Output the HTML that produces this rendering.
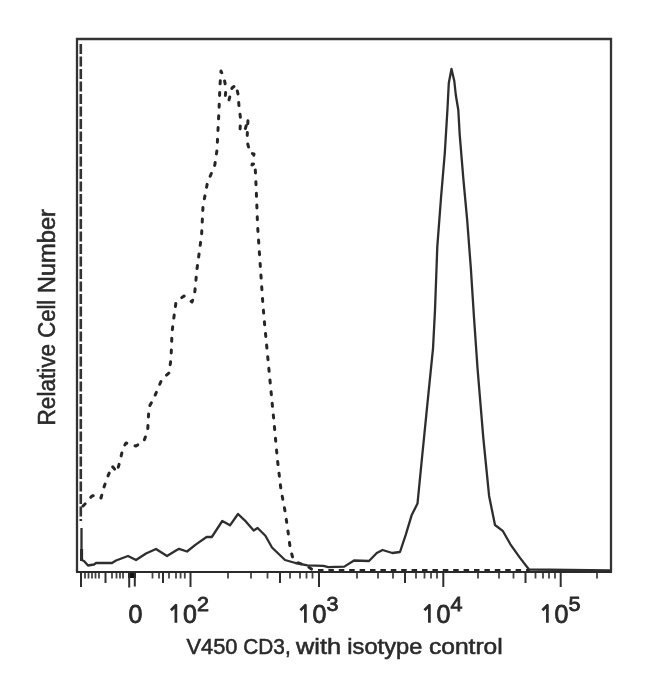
<!DOCTYPE html>
<html><head><meta charset="utf-8">
<style>
html,body{margin:0;padding:0;background:#fff;}
body{width:650px;height:697px;overflow:hidden;position:relative;}
svg{position:absolute;left:0;top:0;filter:blur(0.6px);}
text{font-family:"Liberation Sans", sans-serif;fill:#2a2a2a;stroke:#2a2a2a;stroke-width:0.55px;}
.t text{stroke-width:0.8px;}
</style></head>
<body>
<svg width="650" height="697" viewBox="0 0 650 697">
<rect x="0" y="0" width="650" height="697" fill="#fff"/>
<g stroke="#2e2e2e" stroke-width="2" fill="none">
<line x1="81" y1="572" x2="81" y2="587"/><line x1="190.5" y1="572" x2="190.5" y2="587"/><line x1="319" y1="572" x2="319" y2="587"/><line x1="443.3" y1="572" x2="443.3" y2="587"/><line x1="560.7" y1="572" x2="560.7" y2="587"/><line x1="105.5" y1="572" x2="105.5" y2="583"/><line x1="163" y1="572" x2="163" y2="583"/><line x1="280" y1="572" x2="280" y2="583"/><line x1="405" y1="572" x2="405" y2="583"/><line x1="525.5" y1="572" x2="525.5" y2="583"/><line x1="85" y1="572" x2="85" y2="578.5" stroke="#444" stroke-width="1.8"/><line x1="88.5" y1="572" x2="88.5" y2="578.5" stroke="#444" stroke-width="1.8"/><line x1="92" y1="572" x2="92" y2="578.5" stroke="#444" stroke-width="1.8"/><line x1="95.5" y1="572" x2="95.5" y2="578.5" stroke="#444" stroke-width="1.8"/><line x1="99" y1="572" x2="99" y2="578.5" stroke="#444" stroke-width="1.8"/><line x1="112" y1="572" x2="112" y2="578.5" stroke="#444" stroke-width="1.8"/><line x1="116.5" y1="572" x2="116.5" y2="578.5" stroke="#444" stroke-width="1.8"/><line x1="120" y1="572" x2="120" y2="578.5" stroke="#444" stroke-width="1.8"/><line x1="123" y1="572" x2="123" y2="578.5" stroke="#444" stroke-width="1.8"/><line x1="152.5" y1="572" x2="152.5" y2="578.5" stroke="#444" stroke-width="1.8"/><line x1="159" y1="572" x2="159" y2="578.5" stroke="#444" stroke-width="1.8"/><line x1="169" y1="572" x2="169" y2="578.5" stroke="#444" stroke-width="1.8"/><line x1="176" y1="572" x2="176" y2="578.5" stroke="#444" stroke-width="1.8"/><line x1="180.6" y1="572" x2="180.6" y2="578.5" stroke="#444" stroke-width="1.8"/><line x1="184.8" y1="572" x2="184.8" y2="578.5" stroke="#444" stroke-width="1.8"/><line x1="228" y1="572" x2="228" y2="578.5" stroke="#444" stroke-width="1.8"/><line x1="251" y1="572" x2="251" y2="578.5" stroke="#444" stroke-width="1.8"/><line x1="267.5" y1="572" x2="267.5" y2="578.5" stroke="#444" stroke-width="1.8"/><line x1="290" y1="572" x2="290" y2="578.5" stroke="#444" stroke-width="1.8"/><line x1="300" y1="572" x2="300" y2="578.5" stroke="#444" stroke-width="1.8"/><line x1="306.5" y1="572" x2="306.5" y2="578.5" stroke="#444" stroke-width="1.8"/><line x1="312.5" y1="572" x2="312.5" y2="578.5" stroke="#444" stroke-width="1.8"/><line x1="357" y1="572" x2="357" y2="578.5" stroke="#444" stroke-width="1.8"/><line x1="378" y1="572" x2="378" y2="578.5" stroke="#444" stroke-width="1.8"/><line x1="393" y1="572" x2="393" y2="578.5" stroke="#444" stroke-width="1.8"/><line x1="416" y1="572" x2="416" y2="578.5" stroke="#444" stroke-width="1.8"/><line x1="424.5" y1="572" x2="424.5" y2="578.5" stroke="#444" stroke-width="1.8"/><line x1="431" y1="572" x2="431" y2="578.5" stroke="#444" stroke-width="1.8"/><line x1="437" y1="572" x2="437" y2="578.5" stroke="#444" stroke-width="1.8"/><line x1="478" y1="572" x2="478" y2="578.5" stroke="#444" stroke-width="1.8"/><line x1="499" y1="572" x2="499" y2="578.5" stroke="#444" stroke-width="1.8"/><line x1="513.5" y1="572" x2="513.5" y2="578.5" stroke="#444" stroke-width="1.8"/><line x1="535.5" y1="572" x2="535.5" y2="578.5" stroke="#444" stroke-width="1.8"/><line x1="543" y1="572" x2="543" y2="578.5" stroke="#444" stroke-width="1.8"/><line x1="549" y1="572" x2="549" y2="578.5" stroke="#444" stroke-width="1.8"/><line x1="555" y1="572" x2="555" y2="578.5" stroke="#444" stroke-width="1.8"/><line x1="597" y1="572" x2="597" y2="578.5" stroke="#444" stroke-width="1.8"/><rect x="128" y="572" width="8" height="6" fill="#111" stroke="none"/><line x1="129.2" y1="572" x2="129.2" y2="587.5"/><line x1="134.8" y1="572" x2="134.8" y2="586.5"/>
</g>
<line x1="80.8" y1="44" x2="80.8" y2="521" stroke="#333" stroke-width="2.6" stroke-dasharray="10 2.5"/>
<line x1="318" y1="570.4" x2="530" y2="570.4" stroke="#262626" stroke-width="3" stroke-dasharray="5.5 4.9"/>
<path d="M 83 506 L 85 504 L 92 496 L 97 495 L 101 498 L 104 487 L 108 476 L 112 466 L 117 472 L 120 461 L 123 448 L 126 443 L 136 446 L 144 441 L 147.7 430 L 149 407 L 153.5 399 L 162 379 L 169 373 L 171 359 L 172 333 L 173 324 L 176 302 L 184 296 L 192 302 L 194.5 295 L 197 269 L 201.6 235 L 203 206 L 207.4 183 L 214.8 165 L 217 150 L 219 110 L 220 85 L 221 71 L 224 78 L 226 88 L 225 100 L 229 100 L 232 88 L 236 85 L 238 94 L 239 106 L 240.6 119 L 240 131 L 245 130 L 248 119 L 247 141 L 250 153 L 254 154 L 252 165 L 255 163 L 256.2 189 L 257.6 226 L 260.5 269 L 263 306 L 264.8 326 L 268.4 364 L 273.6 418 L 277.4 459.5 L 281 490 L 285 511 L 287.7 529 L 290.3 549 L 293 558.5 L 296 562 L 307 566 L 312 569.5 L 318 570.4" fill="none" stroke="#262626" stroke-width="3" stroke-dasharray="3 8.7" stroke-linecap="round" stroke-linejoin="round"/>
<line x1="81.6" y1="549" x2="81.6" y2="561" stroke="#222" stroke-width="3"/>
<path d="M 81.5 528 L 81.5 560 L 84 561 L 88 565.5 L 94 564.5 L 96 563 L 112 563 L 116 560.5 L 128 556 L 136 560 L 146 553.5 L 156 549 L 167 556 L 176 550.4 L 179 548.8 L 187 551.5 L 196 544.4 L 206.6 537 L 211.8 537 L 222.3 521 L 230 525.3 L 238 514 L 245.8 521.4 L 253.7 530.5 L 257.6 528 L 265.4 535.8 L 272 547.5 L 285 560 L 295.5 563 L 307.4 565.4 L 323.4 565.8 L 328.3 567.2 L 344.3 566.6 L 354 560.5 L 369 561 L 376.8 553 L 382.6 550 L 392.3 553 L 400 552 L 405.8 534.6 L 411.6 515.3 L 417.5 503.6 L 421.3 465 L 427.1 406.8 L 433 348.7 L 435 310 L 437.3 246.6 L 441 198 L 444.8 153 L 447.5 108.5 L 448.8 83 L 451.5 69 L 454.3 81 L 455.8 95 L 458.3 110 L 459.7 134.6 L 463.4 179.4 L 467.2 220.4 L 470.9 269 L 474 317.5 L 477.5 368 L 483.3 437.8 L 489.1 495.9 L 495 525 L 502.7 530.8 L 510.4 544.3 L 520 557.9 L 529 569.5 L 610 570.3" fill="none" stroke="#2e2e2e" stroke-width="2.3" stroke-linejoin="round"/>
<path d="M 77 572 L 77 39 L 611 39 L 611 572" fill="none" stroke="#333" stroke-width="2.3"/><line x1="76" y1="572" x2="612" y2="572" stroke="#2a2a2a" stroke-width="2.2"/>
<g class="t">
<text x="128.5" y="623" font-size="25">0</text>
<path d="M 170.9 610.2 L 175.9 605.2 L 175.9 622.8" fill="none" stroke="#2a2a2a" stroke-width="2.7" stroke-linejoin="round"/>
<text x="183.1" y="623" font-size="25">0</text>
<text x="197.1" y="610.8" font-size="20.5" textLength="12" lengthAdjust="spacingAndGlyphs">2</text>
<path d="M 300.4 610.2 L 305.4 605.2 L 305.4 622.8" fill="none" stroke="#2a2a2a" stroke-width="2.7" stroke-linejoin="round"/>
<text x="312.6" y="623" font-size="25">0</text>
<text x="326.6" y="610.8" font-size="20.5" textLength="12" lengthAdjust="spacingAndGlyphs">3</text>
<path d="M 424.4 610.2 L 429.4 605.2 L 429.4 622.8" fill="none" stroke="#2a2a2a" stroke-width="2.7" stroke-linejoin="round"/>
<text x="436.6" y="623" font-size="25">0</text>
<text x="450.6" y="610.8" font-size="20.5" textLength="12" lengthAdjust="spacingAndGlyphs">4</text>
<path d="M 542.4 610.2 L 547.4 605.2 L 547.4 622.8" fill="none" stroke="#2a2a2a" stroke-width="2.7" stroke-linejoin="round"/>
<text x="554.6" y="623" font-size="25">0</text>
<text x="568.6" y="610.8" font-size="20.5" textLength="12" lengthAdjust="spacingAndGlyphs">5</text>
</g>
<text x="186.5" y="653.5" font-size="21.5" textLength="51.0" lengthAdjust="spacingAndGlyphs">V450</text>
<text x="243.3" y="653.5" font-size="21.5" textLength="47.4" lengthAdjust="spacingAndGlyphs">CD3,</text>
<text x="296.0" y="653.5" font-size="21.5" textLength="45.0" lengthAdjust="spacingAndGlyphs">with</text>
<text x="347.3" y="653.5" font-size="21.5" textLength="75.0" lengthAdjust="spacingAndGlyphs">isotype</text>
<text x="428.9" y="653.5" font-size="21.5" textLength="73.9" lengthAdjust="spacingAndGlyphs">control</text>
<text transform="translate(54.5,425.5) rotate(-90)" x="0" y="0" font-size="23" textLength="81.7" lengthAdjust="spacingAndGlyphs">Relative</text>
<text transform="translate(54.5,337.8) rotate(-90)" x="0" y="0" font-size="23" textLength="38.0" lengthAdjust="spacingAndGlyphs">Cell</text>
<text transform="translate(54.5,293.3) rotate(-90)" x="0" y="0" font-size="23" textLength="84.3" lengthAdjust="spacingAndGlyphs">Number</text>
</svg>
</body></html>
